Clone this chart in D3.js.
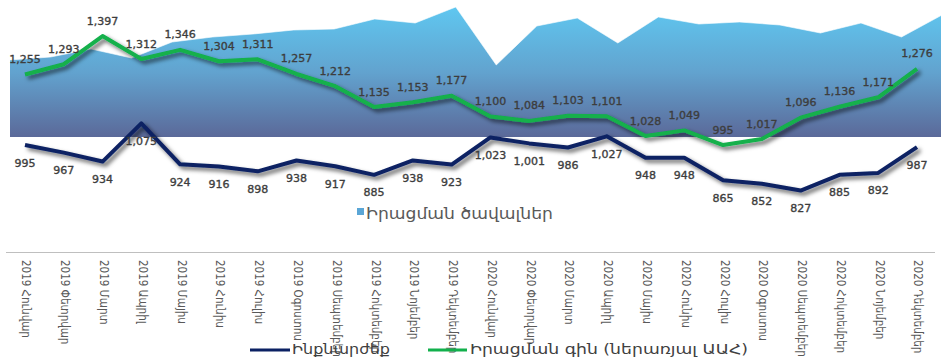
<!DOCTYPE html>
<html><head><meta charset="utf-8">
<script src="https://cdn.jsdelivr.net/npm/d3@7"></script>
<style>
html,body{margin:0;padding:0;background:#fff;}
svg{display:block;}
</style></head>
<body>
<svg id="chart" width="941" height="359"></svg>
<script>
const categories = [
 "2019 Հունվար","2019 Փետրվար","2019 Մարտ","2019 Ապրիլ","2019 Մայիս","2019 Հունիս",
 "2019 Հուլիս","2019 Օգոստոս","2019 Սեպտեմբեր","2019 Հոկտեմբեր","2019 Նոյեմբեր","2019 Դեկտեմբեր",
 "2020 Հունվար","2020 Փետրվար","2020 Մարտ","2020 Ապրիլ","2020 Մայիս","2020 Հունիս",
 "2020 Հուլիս","2020 Օգոստոս","2020 Սեպտեմբեր","2020 Հոկտեմբեր","2020 Նոյեմբեր","2020 Դեկտեմբեր"
];
const salesVolume = [77,80,88,79,95,100,103,107,108,118,114,130,72,111,119,94,120,113,115,112,104,114,100,122];
const salePrice = [1255,1293,1397,1312,1346,1304,1311,1257,1212,1135,1153,1177,1100,1084,1103,1101,1028,1049,995,1017,1096,1136,1171,1276];
const costPrice = [995,967,934,1075,924,916,898,938,917,885,938,923,1023,1001,986,1027,948,948,865,852,827,885,892,987];
const seriesNames = ["Իրացման ծավալներ","Ինքնարժեք","Իրացման գին (ներառյալ ԱԱՀ)"];

const svg = d3.select("#chart");
const defs = svg.append("defs");
const grad = defs.append("linearGradient").attr("id","areaGrad")
  .attr("gradientUnits","userSpaceOnUse").attr("x1",0).attr("y1",7).attr("x2",0).attr("y2",137);
grad.append("stop").attr("offset","0%").attr("stop-color","#5fc7f0");
grad.append("stop").attr("offset","50%").attr("stop-color","#62a3cf");
grad.append("stop").attr("offset","100%").attr("stop-color","#5b6999");
const f = defs.append("filter").attr("id","sh").attr("x","-10%").attr("y","-30%").attr("width","130%").attr("height","180%");
f.append("feDropShadow").attr("dx",3).attr("dy",3).attr("stdDeviation",2.2)
  .attr("flood-color","#000").attr("flood-opacity",0.6);

// scales
const xa = d3.scalePoint().domain(categories).range([10, 942]);
const ya = d3.scaleLinear().domain([0,130]).range([137, 7]);
const x = d3.scalePoint().domain(categories).range([25, 917]);
const y = d3.scaleLinear().domain([800,1400]).range([197.9, 35.2]);

// area
const area = d3.area().x((d,i)=>xa(categories[i])).y0(ya(0)).y1(d=>ya(d));
svg.append("path").datum(salesVolume).attr("d",area).attr("fill","url(#areaGrad)");
svg.append("path").datum(salesVolume)
  .attr("d",d3.line().x((d,i)=>xa(categories[i])).y(d=>ya(d)))
  .attr("fill","none").attr("stroke","#ffffff").attr("stroke-opacity",0.6).attr("stroke-width",1);

// lines
const line = d3.line().x((d,i)=>x(categories[i])).y(d=>y(d));
svg.append("path").datum(costPrice).attr("d",line).attr("fill","none")
  .attr("stroke","#0b2163").attr("stroke-width",4).attr("stroke-linejoin","round").attr("filter","url(#sh)");
svg.append("path").datum(salePrice).attr("d",line).attr("fill","none")
  .attr("stroke","#12b04c").attr("stroke-width",4).attr("stroke-linejoin","round").attr("filter","url(#sh)");

const fmt = d3.format(",");
const lblStyle = s => s.attr("font-family","'DejaVu Sans', Verdana, sans-serif").attr("font-size","11px")
  .attr("fill","#3d3d3d").attr("stroke","#3d3d3d").attr("stroke-width",0.35).attr("text-anchor","middle");
svg.append("g").selectAll("text").data(salePrice).join("text")
  .attr("x",(d,i)=>x(categories[i])).attr("y",d=>y(d)-11.5).text(d=>fmt(d)).call(lblStyle);
svg.append("g").selectAll("text").data(costPrice).join("text")
  .attr("x",(d,i)=>x(categories[i])).attr("y",d=>y(d)+21.5).text(d=>fmt(d)).call(lblStyle);

// area legend
svg.append("rect").attr("x",357).attr("y",208).attr("width",7).attr("height",7).attr("fill","#5aa6d6");
svg.append("text").attr("x",366).attr("y",219).text(seriesNames[0])
  .attr("font-family","'DejaVu Sans', sans-serif").attr("font-size","16px").attr("fill","#595959")
  .attr("textLength",187).attr("lengthAdjust","spacingAndGlyphs");

// separator line
svg.append("line").attr("x1",6).attr("x2",935).attr("y1",252.5).attr("y2",252.5)
  .attr("stroke","#bfbfbf").attr("stroke-width",1);

// x axis
const ax = svg.append("g").attr("transform","translate(0,252)")
  .call(d3.axisBottom(x).tickSize(0));
ax.select(".domain").remove();
ax.selectAll("text").attr("transform","rotate(90)").attr("x",8).attr("y",-1).attr("dy","0.35em")
  .attr("text-anchor","start").attr("font-family","'DejaVu Sans Condensed','DejaVu Sans',sans-serif")
  .attr("font-size","11.5px").attr("fill","#595959");

// bottom legend
svg.append("line").attr("x1",250).attr("x2",290).attr("y1",350).attr("y2",350)
  .attr("stroke","#0b2163").attr("stroke-width",3);
svg.append("text").attr("x",292).attr("y",354).text(seriesNames[1])
  .attr("font-family","'DejaVu Sans', sans-serif").attr("font-size","14.5px").attr("fill","#404040")
  .attr("textLength",98).attr("lengthAdjust","spacingAndGlyphs");
svg.append("line").attr("x1",428).attr("x2",467).attr("y1",350).attr("y2",350)
  .attr("stroke","#12b04c").attr("stroke-width",3);
svg.append("text").attr("x",470).attr("y",354).text(seriesNames[2])
  .attr("font-family","'DejaVu Sans', sans-serif").attr("font-size","14.5px").attr("fill","#404040")
  .attr("textLength",278).attr("lengthAdjust","spacingAndGlyphs");
</script>
</body></html>
